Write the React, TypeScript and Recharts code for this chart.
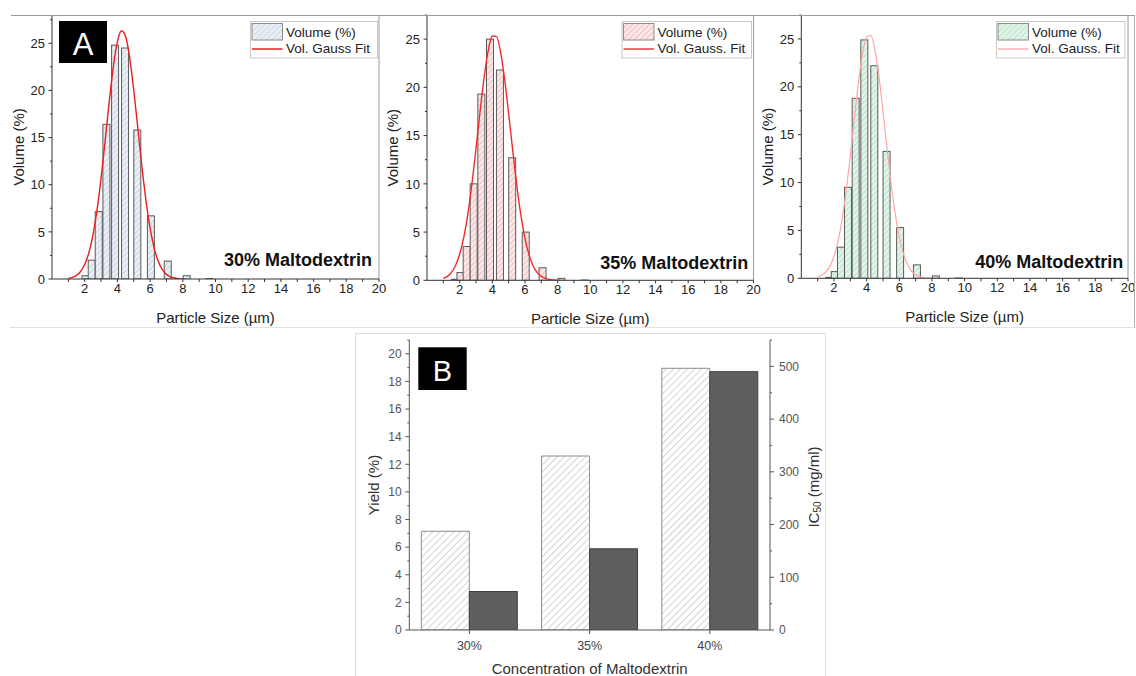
import React from "react";
import { ComposedChart, BarChart, Bar, Line, XAxis, YAxis, ReferenceLine } from "recharts";

const FONT = '"Liberation Sans", Arial, Helvetica, sans-serif';
const AXIS_A = "#333";
const AXIS_B = "#555";

// A: particle size distributions (bin centre in µm, volume %)
const binCenters = [1.72, 2.05, 2.43, 2.86, 3.33, 3.86, 4.47, 5.22, 6.05, 7.08, 8.24, 9.65];
const vol30 = [0, 0.35, 2.0, 7.15, 16.4, 24.8, 24.5, 15.8, 6.7, 1.9, 0.35, 0.05];
const vol35 = [0.1, 0.8, 3.5, 10.0, 19.3, 25.0, 21.8, 12.7, 5.0, 1.3, 0.2, 0.03];
const vol40 = [0.1, 0.7, 3.25, 9.5, 18.8, 24.9, 22.2, 13.25, 5.3, 1.4, 0.25, 0.03];

// Gauss fit curves
const fitX = [1, 1.25, 1.5, 1.75, 2, 2.25, 2.5, 2.75, 3, 3.25, 3.5, 3.75, 4, 4.25, 4.5, 4.75, 5, 5.25, 5.5, 5.75, 6, 6.25, 6.5, 6.75, 7, 7.25, 7.5, 7.75, 8];
const fit30 = [0.07, 0.18, 0.39, 0.8, 1.54, 2.75, 4.63, 7.28, 10.68, 14.65, 18.78, 22.5, 25.17, 26.33, 25.73, 23.49, 20.04, 15.98, 11.9, 8.29, 5.39, 3.28, 1.86, 0.99, 0.49, 0.23, 0.1, 0.04, 0.01];
const fit35 = [0.2, 0.41, 0.82, 1.54, 2.7, 4.43, 6.87, 9.98, 13.62, 17.47, 21.04, 23.81, 25.32, 25.29, 23.72, 20.91, 17.32, 13.47, 9.84, 6.75, 4.36, 2.64, 1.5, 0.8, 0.4, 0.19, 0.08, 0.03, 0.01];
const fit40 = [0.15, 0.32, 0.66, 1.27, 2.3, 3.89, 6.18, 9.19, 12.81, 16.73, 20.46, 23.46, 25.2, 25.37, 23.92, 21.14, 17.5, 13.58, 9.88, 6.73, 4.29, 2.57, 1.44, 0.76, 0.37, 0.17, 0.07, 0.03, 0.01];

const sizeTicks = [1, 2, 3, 4, 5, 6, 7, 8, 9, 10, 11, 12, 13, 14, 15, 16, 17, 18, 19, 20];
const volTicks = [0, 2.5, 5, 7.5, 10, 12.5, 15, 17.5, 20, 22.5, 25, 27.5];

// B: yield and IC50 per maltodextrin concentration
const concentrations = ["30%", "35%", "40%"];
const yieldPct = [7.15, 12.6, 18.95];
const ic50 = [73, 154, 490];
const yieldTicks = [0, 1, 2, 3, 4, 5, 6, 7, 8, 9, 10, 11, 12, 13, 14, 15, 16, 17, 18, 19, 20, 21];
const icTicks = [0, 50, 100, 150, 200, 250, 300, 350, 400, 450, 500, 550];

function buildRows(vol: number[], fit: number[]) {
  const rows: { x: number; vol?: number; fit?: number }[] = [];
  binCenters.forEach((x, i) => rows.push({ x, vol: vol[i] }));
  fitX.forEach((x, i) => rows.push({ x, fit: fit[i] }));
  return rows.sort((a, b) => a.x - b.x);
}

const histBar = (p: any) => {
  if (!p.payload || p.payload.vol == null || !(p.height > 0)) return <g />;
  const cx = p.x + p.width / 2;
  return <rect x={cx - 3.5} y={p.y} width={7} height={p.height} fill={p.fill} stroke="#5a5a5a" strokeWidth={1} />;
};

const sizeTick = (p: any) => {
  const v = p.payload.value;
  const major = v % 2 === 0;
  return (
    <g>
      <line x1={p.x} x2={p.x} y1={p.y} y2={p.y + 3} stroke={AXIS_A} />
      {major && (
        <text x={p.x} y={p.y + 13.5} textAnchor="middle" fontSize={13} fill="#222" fontFamily={FONT}>
          {v}
        </text>
      )}
    </g>
  );
};

const volTick = (p: any) => {
  const v = p.payload.value;
  const major = v % 5 === 0;
  return (
    <g>
      <line x1={p.x} x2={p.x - (major ? 3.5 : 2)} y1={p.y} y2={p.y} stroke={AXIS_A} />
      {major && (
        <text x={p.x - 7} y={p.y} dy="0.36em" textAnchor="end" fontSize={13} fill="#222" fontFamily={FONT}>
          {v}
        </text>
      )}
    </g>
  );
};

const yieldTick = (p: any) => {
  const v = p.payload.value;
  const major = v % 2 === 0;
  return (
    <g>
      <line x1={p.x} x2={p.x - (major ? 4 : 2)} y1={p.y} y2={p.y} stroke={AXIS_B} />
      {major && (
        <text x={p.x - 7.6} y={p.y} dy="0.36em" textAnchor="end" fontSize={12} fill="#555" fontFamily={FONT}>
          {v}
        </text>
      )}
    </g>
  );
};

const icTick = (p: any) => {
  const v = p.payload.value;
  const major = v % 100 === 0;
  return (
    <g>
      <line x1={p.x} x2={p.x + (major ? 4 : 2)} y1={p.y} y2={p.y} stroke={AXIS_B} />
      {major && (
        <text x={p.x + 9} y={p.y} dy="0.36em" textAnchor="start" fontSize={12} fill="#555" fontFamily={FONT}>
          {v}
        </text>
      )}
    </g>
  );
};

const concTick = (p: any) => (
  <g>
    <line x1={p.x} x2={p.x} y1={p.y} y2={p.y + 4} stroke={AXIS_B} />
    <text x={p.x} y={p.y + 15} dy="0.36em" textAnchor="middle" fontSize={12.5} fill="#444" fontFamily={FONT}>
      {p.payload.value}
    </text>
  </g>
);

const topTick = (p: any) => <line x1={p.x} x2={p.x} y1={p.y} y2={p.y + 4} stroke={AXIS_B} />;

type Cfg = {
  rows: { x: number; vol?: number; fit?: number }[];
  left: number;
  width: number;
  margin: { top: number; right: number; bottom: number; left: number };
  yMax: number;
  hatch: string;
  fitColor: string;
  fitWidth: number;
};

const panels: Cfg[] = [
  { rows: buildRows(vol30, fit30), left: 0, width: 380, margin: { top: 15, right: 1, bottom: 21, left: 12 }, yMax: 28, hatch: "hatch30", fitColor: "#ee1c1c", fitWidth: 1.4 },
  { rows: buildRows(vol35, fit35), left: 380, width: 376, margin: { top: 15, right: 2.5, bottom: 19.7, left: 7 }, yMax: 27.5, hatch: "hatch35", fitColor: "#f02a2a", fitWidth: 1.4 },
  { rows: buildRows(vol40, fit40), left: 756, width: 380, margin: { top: 15, right: 8, bottom: 21.7, left: 5.3 }, yMax: 27.5, hatch: "hatch40", fitColor: "#ffa6a6", fitWidth: 1.2 },
];

function PsdPanel({ cfg }: { cfg: Cfg }) {
  const H = 330;
  const m = cfg.margin;
  const plotL = m.left + 40;
  const plotR = cfg.width - m.right;
  const plotT = m.top;
  const plotB = H - m.bottom - 30;
  const midY = (plotT + plotB) / 2;
  return (
    <div style={{ position: "absolute", left: cfg.left, top: 0 }}>
      <ComposedChart width={cfg.width} height={H} data={cfg.rows} margin={m} style={{ fontFamily: FONT }}>
        <XAxis
          type="number"
          dataKey="x"
          domain={[0, 20]}
          ticks={sizeTicks}
          interval={0}
          allowDataOverflow
          height={30}
          tickSize={0}
          tickMargin={0}
          tickLine={false}
          axisLine={{ stroke: AXIS_A }}
          tick={sizeTick}
          label={() => (
            <text x={(plotL + plotR) / 2} y={plotB + 38.5} textAnchor="middle" dominantBaseline="central" fontSize={15} fill="#222" fontFamily={FONT}>
              Particle Size (µm)
            </text>
          )}
        />
        <YAxis
          type="number"
          domain={[0, cfg.yMax]}
          ticks={volTicks.filter((t) => t <= cfg.yMax)}
          interval={0}
          allowDataOverflow
          width={40}
          tickSize={0}
          tickMargin={0}
          tickLine={false}
          axisLine={{ stroke: AXIS_A }}
          tick={volTick}
          label={() => (
            <text
              x={plotL - 34}
              y={midY}
              transform={`rotate(-90 ${plotL - 34} ${midY})`}
              textAnchor="middle"
              dominantBaseline="central"
              fontSize={15}
              fill="#222"
              fontFamily={FONT}
            >
              Volume (%)
            </text>
          )}
        />
        <ReferenceLine x={20} stroke="#9a9a9a" />
        <Bar dataKey="vol" fill={`url(#${cfg.hatch})`} barSize={2} shape={histBar} isAnimationActive={false} />
        <Line
          dataKey="fit"
          type="monotone"
          stroke={cfg.fitColor}
          strokeWidth={cfg.fitWidth}
          dot={false}
          activeDot={false}
          connectNulls
          isAnimationActive={false}
        />
      </ComposedChart>
    </div>
  );
}

function YieldChart() {
  const rows = concentrations.map((c, i) => ({ conc: c, yield: yieldPct[i], ic50: ic50[i] }));
  const W = 471;
  const H = 350;
  const plotL = 54.3;
  const plotR = 415;
  const plotT = 14;
  const plotB = 304;
  const midY = (plotT + plotB) / 2;
  return (
    <div style={{ position: "absolute", left: 355, top: 326 }}>
      <BarChart
        width={W}
        height={H}
        data={rows}
        margin={{ top: 14, right: 10, bottom: 20, left: 10.3 }}
        barCategoryGap="10%"
        barGap={0}
        style={{ fontFamily: FONT }}
      >
        <XAxis
          dataKey="conc"
          height={26}
          tickSize={0}
          tickMargin={0}
          tickLine={false}
          axisLine={{ stroke: AXIS_B }}
          tick={concTick}
          label={() => (
            <text x={(plotL + plotR) / 2} y={plotB + 38.3} textAnchor="middle" dominantBaseline="central" fontSize={15} fill="#333" fontFamily={FONT}>
              Concentration of Maltodextrin
            </text>
          )}
        />
        <XAxis
          xAxisId="top"
          orientation="top"
          dataKey="conc"
          height={0}
          tickSize={0}
          tickMargin={0}
          tickLine={false}
          axisLine={{ stroke: AXIS_B }}
          tick={topTick}
        />
        <YAxis
          yAxisId="yield"
          type="number"
          domain={[0, 21]}
          ticks={yieldTicks}
          interval={0}
          allowDataOverflow
          width={44}
          tickSize={0}
          tickMargin={0}
          tickLine={false}
          axisLine={{ stroke: AXIS_B }}
          tick={yieldTick}
          label={() => (
            <text
              x={plotL - 36}
              y={midY}
              transform={`rotate(-90 ${plotL - 36} ${midY})`}
              textAnchor="middle"
              dominantBaseline="central"
              fontSize={15}
              fill="#333"
              fontFamily={FONT}
            >
              Yield (%)
            </text>
          )}
        />
        <YAxis
          yAxisId="ic"
          orientation="right"
          type="number"
          domain={[0, 550]}
          ticks={icTicks}
          interval={0}
          allowDataOverflow
          width={46}
          tickSize={0}
          tickMargin={0}
          tickLine={false}
          axisLine={{ stroke: AXIS_B }}
          tick={icTick}
          label={() => (
            <text
              x={plotR + 43.3}
              y={midY + 2}
              transform={`rotate(-90 ${plotR + 43.3} ${midY + 2})`}
              textAnchor="middle"
              dominantBaseline="central"
              fontSize={15}
              fill="#333"
              fontFamily={FONT}
            >
              IC
              <tspan fontSize={10} dy={4}>
                50
              </tspan>
              <tspan dy={-4}> (mg/ml)</tspan>
            </text>
          )}
        />
        <Bar yAxisId="yield" dataKey="yield" fill="url(#hatchYield)" stroke="#8d8d8d" isAnimationActive={false} />
        <Bar yAxisId="ic" dataKey="ic50" fill="#5f5f5f" stroke="#404040" isAnimationActive={false} />
      </BarChart>
    </div>
  );
}

function LegendBox({ x, w, hatch, fitColor, fitLabel }: { x: number; w: number; hatch: string; fitColor: string; fitLabel: string }) {
  return (
    <g fontFamily={FONT} fontSize={13.5} fill="#222">
      <rect x={x + 0.5} y={21.5} width={w} height={36.5} fill="#fff" stroke="#c8c8c8" />
      <rect x={x + 2} y={23.5} width={30.5} height={16.5} fill={`url(#${hatch})`} stroke="#8a8a8a" />
      <text x={x + 36} y={37}>Volume (%)</text>
      <line x1={x + 2} x2={x + 32.5} y1={49} y2={49} stroke={fitColor} strokeWidth={1.5} />
      <text x={x + 36} y={53}>{fitLabel}</text>
    </g>
  );
}

function Overlay() {
  return (
    <svg width={1136} height={676} style={{ position: "absolute", left: 0, top: 0, pointerEvents: "none" }}>
      <defs>
        <pattern id="hatch30" width="4" height="4" patternUnits="userSpaceOnUse" patternTransform="rotate(45)">
          <rect width="4" height="4" fill="#e9eff5" />
          <line x1="0" y1="0" x2="0" y2="4" stroke="#b7c7d8" strokeWidth="1.2" />
        </pattern>
        <pattern id="hatch35" width="4" height="4" patternUnits="userSpaceOnUse" patternTransform="rotate(45)">
          <rect width="4" height="4" fill="#fbe7e7" />
          <line x1="0" y1="0" x2="0" y2="4" stroke="#e8a8a8" strokeWidth="1.2" />
        </pattern>
        <pattern id="hatch40" width="4" height="4" patternUnits="userSpaceOnUse" patternTransform="rotate(45)">
          <rect width="4" height="4" fill="#e1f4e8" />
          <line x1="0" y1="0" x2="0" y2="4" stroke="#a3d6b6" strokeWidth="1.2" />
        </pattern>
        <pattern id="hatchYield" width="5" height="5" patternUnits="userSpaceOnUse" patternTransform="rotate(45)">
          <rect width="5" height="5" fill="#fff" />
          <line x1="0" y1="0" x2="0" y2="5" stroke="#a0a0a0" strokeWidth="0.9" />
        </pattern>
      </defs>

      {/* frames */}
      <line x1={11} x2={1134} y1={15.5} y2={15.5} stroke="#9a9a9a" />
      <line x1={1134.5} x2={1134.5} y1={15} y2={327} stroke="#b0b0b0" />
      <line x1={10} x2={1136} y1={327.5} y2={327.5} stroke="#e2e2e2" />
      <path d="M355.5 676 V333.5 H825.5 V676" fill="none" stroke="#dcdcdc" />

      {/* panel tags */}
      <rect x={59} y={21} width={48} height={42} fill="#000" />
      <text x={83} y={55} textAnchor="middle" fontSize={31} fill="#fff" fontFamily={FONT}>
        A
      </text>
      <rect x={418.3} y={347.3} width={48.4} height={42.7} fill="#000" />
      <text x={442.5} y={380.5} textAnchor="middle" fontSize={29} fill="#fff" fontFamily={FONT}>
        B
      </text>

      {/* panel annotations */}
      <g fontFamily={FONT} fontSize={18} fontWeight="bold" fill="#111" textAnchor="end">
        <text x={372} y={265.7}>30% Maltodextrin</text>
        <text x={748.3} y={269.3}>35% Maltodextrin</text>
        <text x={1123.3} y={267.7}>40% Maltodextrin</text>
      </g>

      <LegendBox x={250} w={127} hatch="hatch30" fitColor="#ee1c1c" fitLabel="Vol. Gauss Fit" />
      <LegendBox x={621.5} w={129.5} hatch="hatch35" fitColor="#f03a3a" fitLabel="Vol. Gauss. Fit" />
      <LegendBox x={996} w={128.3} hatch="hatch40" fitColor="#ffb0b0" fitLabel="Vol. Gauss. Fit" />
    </svg>
  );
}

export default function App() {
  return (
    <div style={{ position: "absolute", left: 0, top: 0, width: 1136, height: 676, background: "#fff", overflow: "hidden", fontFamily: FONT }}>
      <style>{".recharts-surface{overflow:visible}"}</style>
      {panels.map((cfg) => (
        <PsdPanel key={cfg.hatch} cfg={cfg} />
      ))}
      <YieldChart />
      <Overlay />
    </div>
  );
}
